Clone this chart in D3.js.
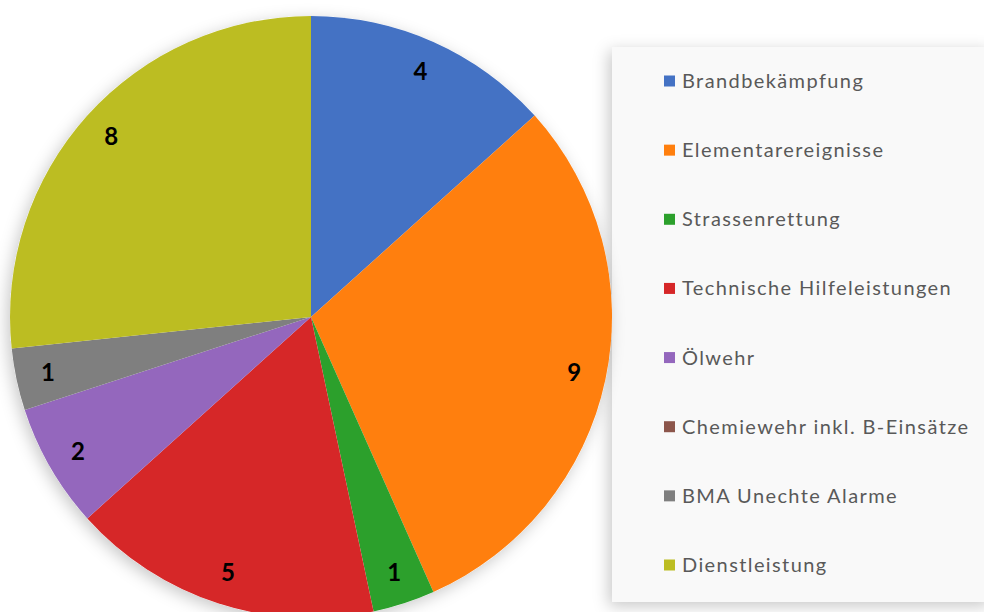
<!DOCTYPE html>
<html>
<head>
<meta charset="utf-8">
<script src="https://cdn.jsdelivr.net/npm/d3@7"></script>
<style>
  body { margin: 0; background: #fff; }
  #chart { width: 984px; height: 612px; }
</style>
</head>
<body>
<div id="chart"></div>
<script>
const categories = ["Brandbekämpfung", "Elementarereignisse", "Strassenrettung", "Technische Hilfeleistungen",
    "Ölwehr", "Chemiewehr inkl. B-Einsätze", "BMA Unechte Alarme", "Dienstleistung"];
const values = [4, 9, 1, 5, 2, 0, 1, 8];
const colors = ["#4472C4", "#FF7F0E", "#2CA02C", "#D62728", "#9467BD", "#8C564B", "#7F7F7F", "#BCBD22"];

const W = 984, H = 612;
const data = categories.map((c, i) => ({name: c, value: values[i], color: colors[i]}));

const svg = d3.select("#chart").append("svg")
    .attr("width", W)
    .attr("height", H);

const defs = svg.append("defs");
const shadow = defs.append("filter").attr("id", "shadow")
    .attr("x", "-20%").attr("y", "-20%").attr("width", "140%").attr("height", "140%");
shadow.append("feDropShadow")
    .attr("dx", -3).attr("dy", 4).attr("stdDeviation", 8)
    .attr("flood-color", "#000").attr("flood-opacity", 0.22);

// legend box
const legend = svg.append("g");
legend.append("rect")
    .attr("x", 612).attr("y", 47)
    .attr("width", 380).attr("height", 555)
    .attr("fill", "#f9f9f9")
    .attr("filter", "url(#shadow)");

const rowY = d3.scalePoint().domain(categories).range([81, 565]);

const items = legend.selectAll(".item")
    .data(data)
    .enter()
    .append("g")
    .attr("transform", d => `translate(664, ${rowY(d.name)})`);

items.append("rect")
    .attr("x", 0).attr("y", -5.5)
    .attr("width", 11).attr("height", 11)
    .attr("fill", d => d.color);

items.append("text")
    .attr("x", 18)
    .attr("dy", "0.35em")
    .attr("font-family", "Lato, sans-serif")
    .attr("font-size", 20)
    .attr("letter-spacing", 1.4)
    .attr("fill", "#595959")
    .text(d => d.name);

// pie
const cx = 311, cy = 317, r = 301;
const g = svg.append("g").attr("transform", `translate(${cx}, ${cy})`);

const pie = d3.pie().value(d => d.value).sort(null);
const arc = d3.arc().innerRadius(0).outerRadius(r);
const labelArc = d3.arc().innerRadius(269).outerRadius(269);

const arcs = pie(data);

g.append("circle").attr("r", r).attr("fill", "#fff").attr("filter", "url(#shadow)");

g.selectAll(".slice")
    .data(arcs.filter(d => d.data.value > 0))
    .enter()
    .append("path")
    .attr("d", arc)
    .attr("fill", d => d.data.color);

g.selectAll(".label")
    .data(arcs.filter(d => d.data.value > 0))
    .enter()
    .append("text")
    .attr("transform", d => `translate(${labelArc.centroid(d)})`)
    .attr("text-anchor", "middle")
    .attr("dy", "0.35em")
    .attr("font-family", "Lato, sans-serif")
    .attr("font-weight", "bold")
    .attr("font-size", 24)
    .attr("fill", "#000")
    .text(d => d.data.value);
</script>
</body>
</html>
